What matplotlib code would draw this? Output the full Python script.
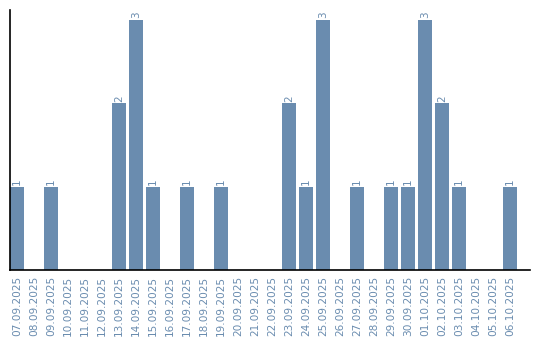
import matplotlib
matplotlib.use("Agg")
import matplotlib.pyplot as plt

dates = ["07.09.2025", "08.09.2025", "09.09.2025", "10.09.2025", "11.09.2025",
         "12.09.2025", "13.09.2025", "14.09.2025", "15.09.2025", "16.09.2025",
         "17.09.2025", "18.09.2025", "19.09.2025", "20.09.2025", "21.09.2025",
         "22.09.2025", "23.09.2025", "24.09.2025", "25.09.2025", "26.09.2025",
         "27.09.2025", "28.09.2025", "29.09.2025", "30.09.2025", "01.10.2025",
         "02.10.2025", "03.10.2025", "04.10.2025", "05.10.2025", "06.10.2025"]
counts = [1, 0, 1, 0, 0, 0, 2, 3, 1, 0,
          1, 0, 1, 0, 0, 0, 2, 1, 3, 0,
          1, 0, 1, 1, 3, 2, 1, 0, 0, 1]

bar_color = "#6a8caf"
text_color = "#6a8caf"

fig = plt.figure(figsize=(5.4, 3.4), dpi=100)
ax = fig.add_axes([10 / 540, 1 - 270 / 340, 520 / 540, 260 / 340])

x = list(range(len(dates)))
ax.bar(x, counts, width=0.82, color=bar_color)

for xi, c in zip(x, counts):
    if c > 0:
        ax.text(xi, c + 0.02, str(c), rotation=90, ha="center", va="bottom",
                fontsize=7.5, color=text_color)

ax.set_xlim(-0.41, 30.18)
ax.set_ylim(0, 3.12)
ax.set_xticks(x)
ax.set_xticklabels(dates, rotation=90, fontsize=7.6, color=text_color)
ax.tick_params(axis="x", length=0, pad=4)
ax.set_yticks([])
ax.spines["top"].set_visible(False)
ax.spines["right"].set_visible(False)
ax.spines["left"].set_linewidth(1.2)
ax.spines["bottom"].set_linewidth(1.2)

fig.savefig("out.png", dpi=100)
